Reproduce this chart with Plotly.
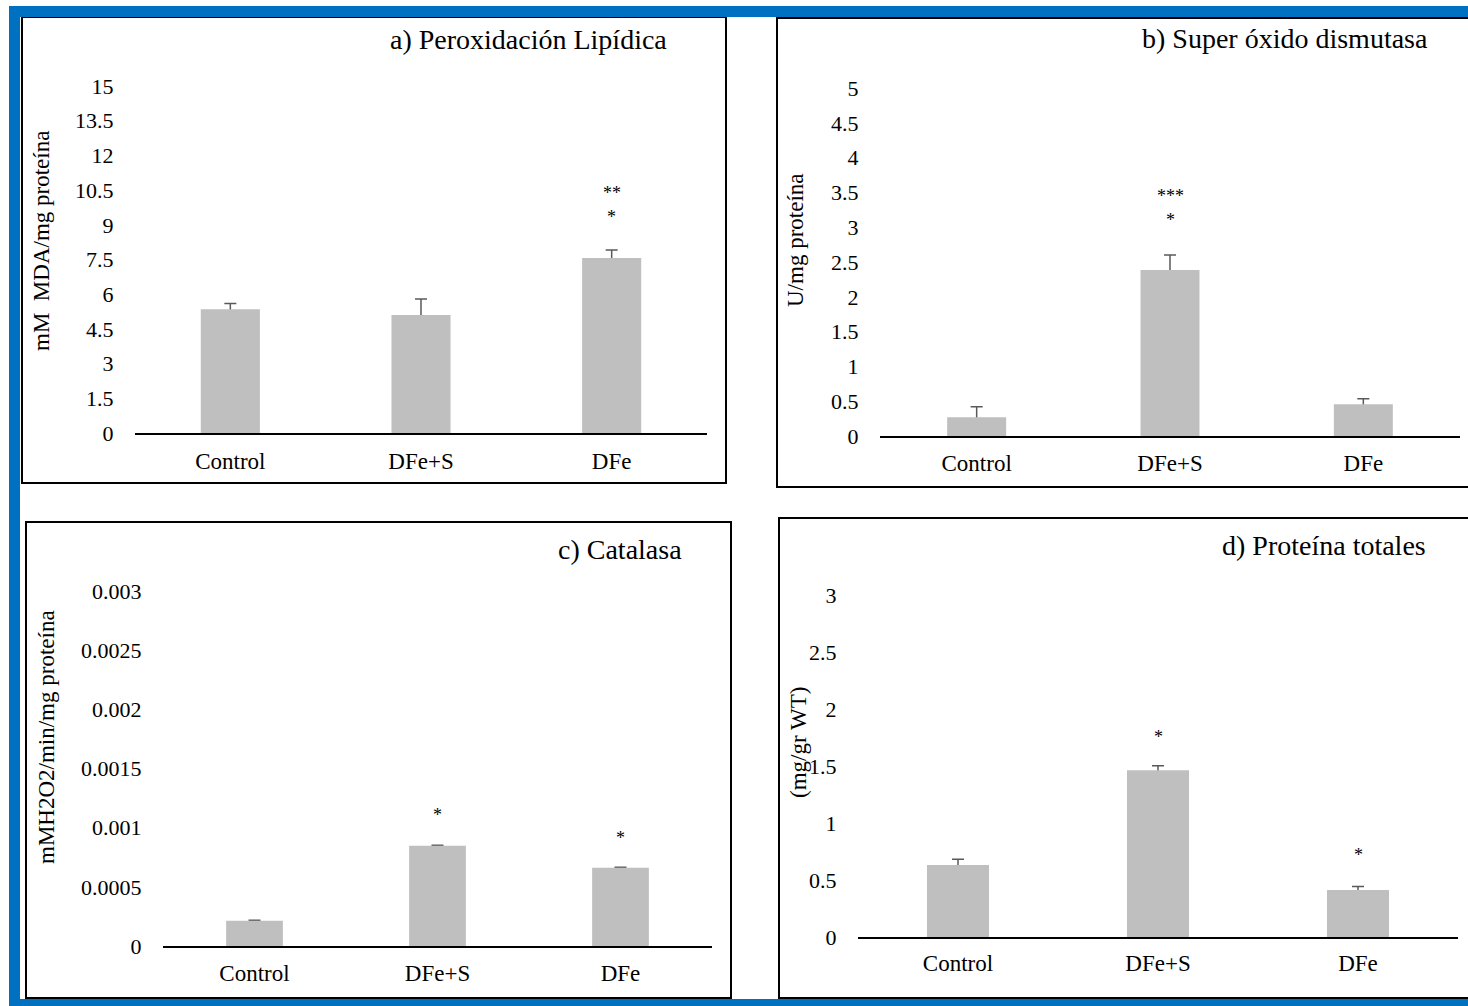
import plotly.graph_objects as go

W, H = 1468, 1006

categories = ["Control", "DFe+S", "DFe"]

# a) Peroxidación Lipídica
a_values = [5.35, 5.10, 7.57]
a_err = [0.25, 0.69, 0.34]
a_ticks = [0, 1.5, 3, 4.5, 6, 7.5, 9, 10.5, 12, 13.5, 15]
a_ticktext = ["0", "1.5", "3", "4.5", "6", "7.5", "9", "10.5", "12", "13.5", "15"]
a_stars = [("DFe", 10.38, "**"), ("DFe", 9.34, "*")]

# b) Super óxido dismutasa
b_values = [0.27, 2.385, 0.455]
b_err = [0.15, 0.215, 0.08]
b_ticks = [0, 0.5, 1, 1.5, 2, 2.5, 3, 3.5, 4, 4.5, 5]
b_ticktext = ["0", "0.5", "1", "1.5", "2", "2.5", "3", "3.5", "4", "4.5", "5"]
b_stars = [("DFe+S", 3.45, "***"), ("DFe+S", 3.10, "*")]

# c) Catalasa
c_values = [0.000214, 0.000848, 0.000662]
c_err = [0.000003, 0.000004, 0.000004]
c_ticks = [0, 0.0005, 0.001, 0.0015, 0.002, 0.0025, 0.003]
c_ticktext = ["0", "0.0005", "0.001", "0.0015", "0.002", "0.0025", "0.003"]
c_stars = [("DFe+S", 0.001107, "*"), ("DFe", 0.000913, "*")]

# d) Proteína totales
d_values = [0.632, 1.462, 0.412]
d_err = [0.05, 0.04, 0.03]
d_ticks = [0, 0.5, 1, 1.5, 2, 2.5, 3]
d_ticktext = ["0", "0.5", "1", "1.5", "2", "2.5", "3"]
d_stars = [("DFe+S", 1.757, "*"), ("DFe", 0.719, "*")]

titles = ["a) Peroxidación Lipídica", "b) Super óxido dismutasa",
          "c) Catalasa", "d) Proteína totales"]
ytitles = ["mM  MDA/mg proteína", "U/mg proteína",
           "mMH2O2/min/mg proteína", "(mg/gr WT)"]


def px(x):
    return x / W


def py(y):
    return 1 - y / H


FONT = "Liberation Serif"
BAR_COLOR = "#BFBFBF"
ERR_COLOR = "#595959"

panels = [
    dict(values=a_values, err=a_err, ticks=a_ticks, ticktext=a_ticktext, stars=a_stars,
         xdom=(135, 707), ydom=(433, 86), yr=(0, 15), width=0.31, xticklen=6,
         title_pos=(669, 40), ytitle_pos=(41, 241)),
    dict(values=b_values, err=b_err, ticks=b_ticks, ticktext=b_ticktext, stars=b_stars,
         xdom=(880, 1460), ydom=(436, 88), yr=(0, 5), width=0.305, xticklen=5,
         title_pos=(1430, 39), ytitle_pos=(796, 240)),
    dict(values=c_values, err=c_err, ticks=c_ticks, ticktext=c_ticktext, stars=c_stars,
         xdom=(163, 712), ydom=(946, 591), yr=(0, 0.003), width=0.31, xticklen=5,
         title_pos=(684, 549), ytitle_pos=(46, 737)),
    dict(values=d_values, err=d_err, ticks=d_ticks, ticktext=d_ticktext, stars=d_stars,
         xdom=(858, 1458), ydom=(937, 595), yr=(0, 3), width=0.31, xticklen=4,
         title_pos=(1428, 545), ytitle_pos=(798, 743)),
]

fig = go.Figure()
annotations = []
layout = {}

for i, p in enumerate(panels):
    n = "" if i == 0 else str(i + 1)
    xa, ya = "x" + n, "y" + n
    # error bars (upper part visible, lower part hidden under the bars)
    fig.add_trace(go.Bar(
        x=categories, y=p["values"], xaxis=xa, yaxis=ya,
        marker=dict(color="rgba(0,0,0,0)", line=dict(width=0)),
        width=p["width"],
        error_y=dict(type="data", symmetric=False, array=p["err"],
                     arrayminus=p["values"], color=ERR_COLOR,
                     thickness=1.5, width=6),
        showlegend=False, hoverinfo="skip",
    ))
    fig.add_trace(go.Bar(
        x=categories, y=p["values"], xaxis=xa, yaxis=ya,
        marker=dict(color=BAR_COLOR, line=dict(width=0)),
        width=p["width"], showlegend=False, hoverinfo="skip",
    ))
    layout["xaxis" + n] = dict(
        domain=[px(p["xdom"][0]), px(p["xdom"][1])], anchor=ya,
        type="category", range=[-0.5, 2.5], showline=True, linecolor="black",
        linewidth=2, showgrid=False, zeroline=False, automargin=False,
        ticks="outside", ticklen=p["xticklen"], tickcolor="rgba(0,0,0,0)",
        tickfont=dict(family=FONT, size=23, color="black"), fixedrange=True,
    )
    layout["yaxis" + n] = dict(
        domain=[py(p["ydom"][0]), py(p["ydom"][1])], anchor=xa,
        range=list(p["yr"]), showline=False, showgrid=False, zeroline=False,
        automargin=False,
        tickmode="array", tickvals=p["ticks"], ticktext=p["ticktext"],
        ticks="outside", ticklen=16, tickcolor="rgba(0,0,0,0)",
        tickfont=dict(family=FONT, size=22, color="black"), fixedrange=True,
    )
    for cat, yv, txt in p["stars"]:
        annotations.append(dict(
            x=cat, y=yv, xref=xa, yref=ya, text=txt, showarrow=False,
            font=dict(family=FONT, size=18, color="black"),
            xanchor="center", yanchor="middle",
        ))
    tx, ty = p["title_pos"]
    annotations.append(dict(
        x=px(tx), y=py(ty), xref="paper", yref="paper", text=titles[i],
        showarrow=False, xanchor="right", yanchor="middle",
        font=dict(family=FONT, size=28, color="black"),
    ))
    ax, ay = p["ytitle_pos"]
    annotations.append(dict(
        x=px(ax), y=py(ay), xref="paper", yref="paper", text=ytitles[i],
        showarrow=False, xanchor="center", yanchor="middle", textangle=-90,
        font=dict(family=FONT, size=23, color="black"),
    ))

shapes = []
# panel frames
frames = [(22, 17, 726, 483), (777, 18, 1480, 487), (26, 522, 731, 998), (779, 518, 1480, 998)]
for x0, y0, x1, y1 in frames:
    shapes.append(dict(type="rect", xref="paper", yref="paper",
                       x0=px(x0), y0=py(y0), x1=px(x1), y1=py(y1),
                       line=dict(color="black", width=2), fillcolor="rgba(0,0,0,0)",
                       layer="above"))
# blue outer frame
BLUE = "#0070C0"
for x0, y0, x1, y1 in [(9, 6, 1480, 17), (9, 6, 20, 1010), (9, 999, 1480, 1010)]:
    shapes.append(dict(type="rect", xref="paper", yref="paper",
                       x0=px(x0), y0=py(y0), x1=px(x1), y1=py(y1),
                       line=dict(width=0), fillcolor=BLUE, layer="above"))

fig.update_layout(
    template="none",
    width=W, height=H, margin=dict(l=0, r=0, t=0, b=0, pad=0), autosize=False,
    paper_bgcolor="white", plot_bgcolor="rgba(0,0,0,0)",
    font=dict(family=FONT, color="black"), showlegend=False,
    annotations=annotations, shapes=shapes, barmode="overlay",
    **layout,
)

fig.write_html(
    "out.html",
    config={"displayModeBar": False},
    post_script="document.body.style.margin='0px';document.body.style.overflow='hidden';",
)
